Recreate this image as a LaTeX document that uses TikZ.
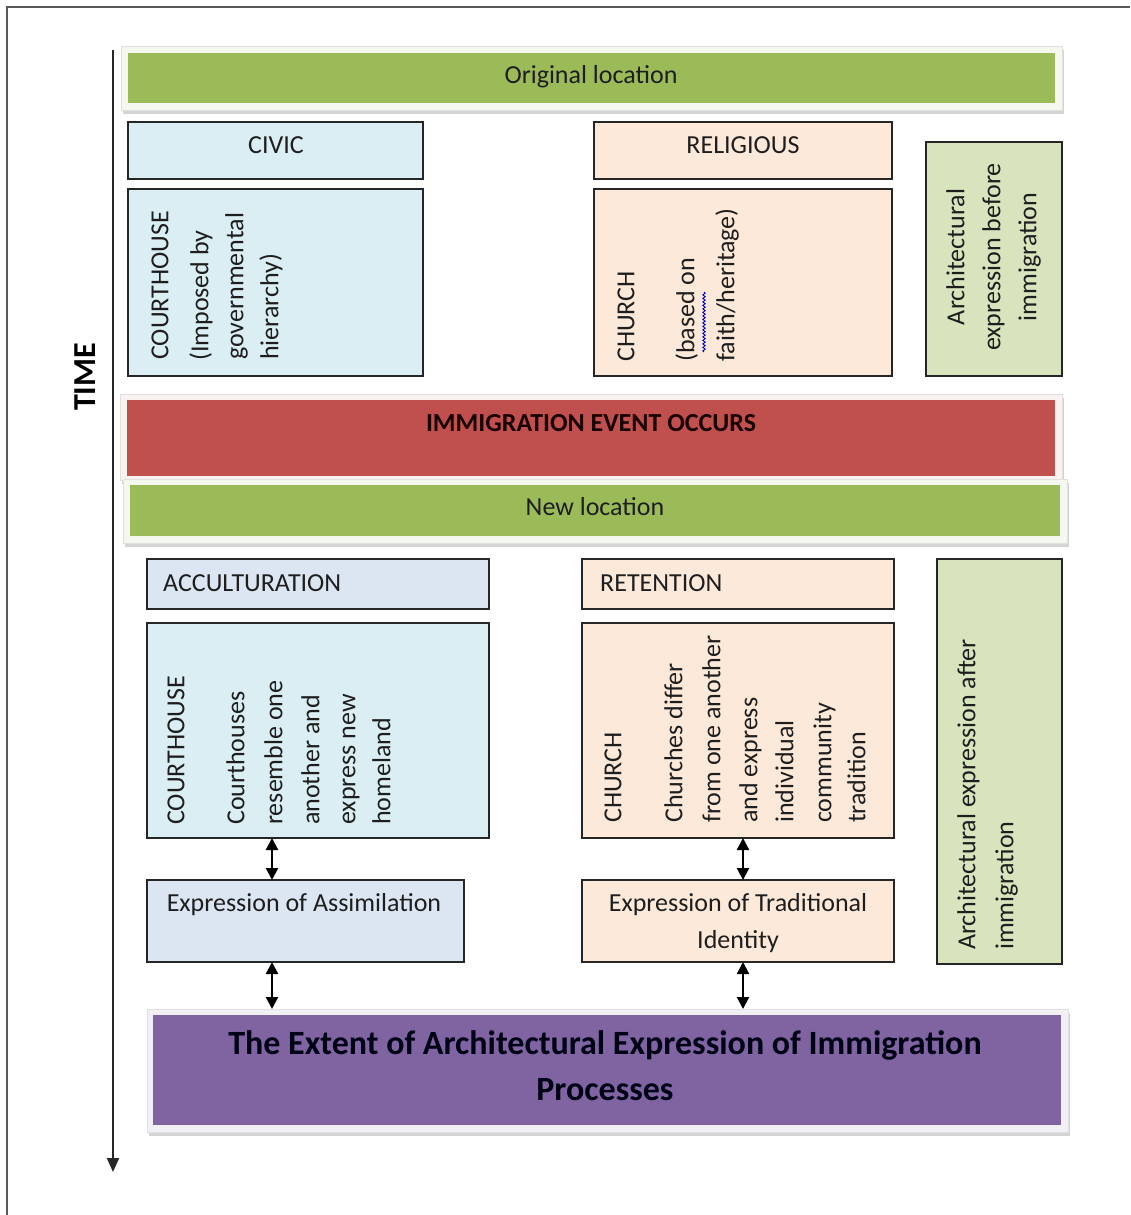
\documentclass[tikz,border=0pt]{standalone}
\usepackage{fontspec}
\setmainfont{Carlito}
\usetikzlibrary{arrows.meta,shadows,decorations.pathmorphing}
\definecolor{ogreen}{HTML}{9BBB59}
\definecolor{ored}{HTML}{C0504D}
\definecolor{opurple}{HTML}{8064A2}
\definecolor{civicblue}{HTML}{DAEEF3}
\definecolor{accblue}{HTML}{DCE6F2}
\definecolor{peach}{HTML}{FDE9D9}
\definecolor{archgreen}{HTML}{D7E4BD}
\definecolor{boxline}{HTML}{262626}
\definecolor{txt}{HTML}{1E1E1E}
\begin{document}
\begin{tikzpicture}[x=1pt,y=-1pt,
  fsreg/.style={font=\fontsize{26}{37}\selectfont, text=txt},
  box/.style={draw=boxline, line width=1.4pt, anchor=north west, inner sep=0pt, outer sep=0pt},
  barframe/.style={draw=black!12, line width=0.6pt, anchor=north west, inner sep=0pt,
     drop shadow={shadow xshift=2pt, shadow yshift=-4pt, opacity=0.3, fill=black!55}},
  barfill/.style={anchor=north west, inner sep=0pt, draw=none},
  vt/.style={fsreg, rotate=90, anchor=mid west, inner sep=0pt},
  vtc/.style={fsreg, rotate=90, anchor=mid, inner sep=0pt},
  lbl/.style={fsreg, inner sep=0pt, anchor=base},
  dbl/.style={line width=2.2pt, draw=black, {Triangle[width=12pt,length=12pt]}-{Triangle[width=12pt,length=12pt]}},
  timeline/.style={line width=2pt, draw=boxline, -{Triangle[width=12pt,length=14pt]}}
]
\useasboundingbox (0,0) rectangle (1130,1215);
\fill[white] (0,0) rectangle (1130,1215);
% outer frame
\draw[black!65, line width=1.4pt] (7,1215) -- (7,7) -- (1130,7);

% time axis
\coordinate (tstart) at (113,50);
\coordinate (tend) at (113,1172);
\draw[timeline] (tstart) -- (tend);
\node[font=\fontsize{32}{38}\selectfont\bfseries, text=black, rotate=90, inner sep=0pt] (time) at (85,377) {TIME};

% Original location bar
\node[barframe, fill=ogreen!10!white, minimum width=941pt, minimum height=64pt] (origframe) at (121,46) {};
\node[barfill, fill=ogreen, minimum width=927pt, minimum height=50pt] (orig) at (128,53) {};
\node[lbl] (origt) at (591,84) {Original location};

% top row boxes
\node[box, fill=civicblue, minimum width=295pt, minimum height=57pt] (civic) at (128,122) {};
\node[lbl] (civict) at (276,153) {CIVIC};
\node[box, fill=civicblue, minimum width=295pt, minimum height=187pt] (court1) at (128,189) {};
\node[vt] (c1a) at (166,360) {COURTHOUSE};
\node[vt] (c1b) at (206,361) {(Imposed by};
\node[vt] (c1c) at (241,360) {governmental};
\node[vt] (c1d) at (276,360) {hierarchy)};

\node[box, fill=peach, minimum width=298pt, minimum height=57pt] (relig) at (594,122) {};
\node[lbl] (religt) at (743,153) {RELIGIOUS};
\node[box, fill=peach, minimum width=298pt, minimum height=187pt] (church1) at (594,189) {};
\node[vt] (h1a) at (632,362) {CHURCH};
\node[vt] (h1b) at (692,362) {(based on};
\node[vt] (h1c) at (732,362) {faith/heritage)};
\draw[blue!75!black, line width=0.9pt, decorate, decoration={snake, amplitude=1.2pt, segment length=3.5pt}] (704,352) -- (704,292);

\node[box, fill=archgreen, minimum width=136pt, minimum height=234pt] (before) at (926,142) {};
\node[vtc] (b1) at (962,257) {Architectural};
\node[vtc] (b2) at (998,257) {expression before};
\node[vtc] (b3) at (1034,257) {immigration};

% immigration event bar
\node[barframe, fill=ored!8!white, minimum width=942pt, minimum height=86pt] (redframe) at (120,394) {};
\node[barfill, fill=ored, minimum width=928pt, minimum height=76pt] (red) at (127,400) {};
\node[lbl, font=\fontsize{26}{37}\selectfont\bfseries, text=black!90!red] (redt) at (591,431) {IMMIGRATION EVENT OCCURS};

% New location bar
\node[barframe, fill=ogreen!10!white, minimum width=944pt, minimum height=64pt] (newframe) at (123,479) {};
\node[barfill, fill=ogreen, minimum width=930pt, minimum height=51pt] (newloc) at (130,485) {};
\node[lbl] (newt) at (595,515) {New location};

% lower boxes
\node[box, fill=accblue, minimum width=342pt, minimum height=50pt] (accult) at (147,559) {};
\node[lbl, anchor=base west] (accultt) at (163,591) {ACCULTURATION};
\node[box, fill=civicblue, minimum width=342pt, minimum height=215pt] (court2) at (147,623) {};
\node[vt] (c2a) at (182,825) {COURTHOUSE};
\node[vt] (c2b) at (242,825) {Courthouses};
\node[vt] (c2c) at (280,825) {resemble one};
\node[vt] (c2d) at (317,825) {another and};
\node[vt] (c2e) at (353,825) {express new};
\node[vt] (c2f) at (388,825) {homeland};

\node[box, fill=peach, minimum width=312pt, minimum height=50pt] (reten) at (582,559) {};
\node[lbl, anchor=base west] (retent) at (600,591) {RETENTION};
\node[box, fill=peach, minimum width=312pt, minimum height=215pt] (church2) at (582,623) {};
\node[vt] (h2a) at (619,823) {CHURCH};
\node[vt] (h2b) at (680,823) {Churches differ};
\node[vt] (h2c) at (718,823) {from one another};
\node[vt] (h2d) at (755,823) {and express};
\node[vt] (h2e) at (791,823) {individual};
\node[vt] (h2f) at (829,823) {community};
\node[vt] (h2g) at (863,823) {tradition};

\node[box, fill=archgreen, minimum width=125pt, minimum height=405pt] (after) at (937,559) {};
\node[vt] (a1) at (973,950) {Architectural expression after};
\node[vt] (a2) at (1011,950) {immigration};

\node[box, fill=accblue, minimum width=317pt, minimum height=82pt] (assim) at (147,880) {};
\node[lbl] (assimt) at (304,911) {Expression of Assimilation};
\node[box, fill=peach, minimum width=312pt, minimum height=82pt] (trad) at (582,880) {};
\node[fsreg, align=center, anchor=north, inner sep=0pt] (tradt) at (738,893) {Expression of Traditional\\Identity};

% purple bar
\node[barframe, fill=opurple!10!white, minimum width=921pt, minimum height=123pt] (purframe) at (147,1009) {};
\node[barfill, fill=opurple, minimum width=908pt, minimum height=110pt] (purple) at (153,1015) {};
\node[font=\fontsize{34}{46}\selectfont\bfseries, text=black!92!blue, align=center, anchor=north, inner sep=0pt] (purt) at (605,1030) {The Extent of Architectural Expression of Immigration\\Processes};

% connectors
\coordinate (ax1) at (272,0);
\coordinate (ax2) at (743,0);
\draw[dbl] (ax1 |- court2.south) -- (ax1 |- assim.north);
\draw[dbl] (ax1 |- assim.south) -- (ax1 |- purframe.north);
\draw[dbl] (ax2 |- church2.south) -- (ax2 |- trad.north);
\draw[dbl] (ax2 |- trad.south) -- (ax2 |- purframe.north);
\end{tikzpicture}
\end{document}
